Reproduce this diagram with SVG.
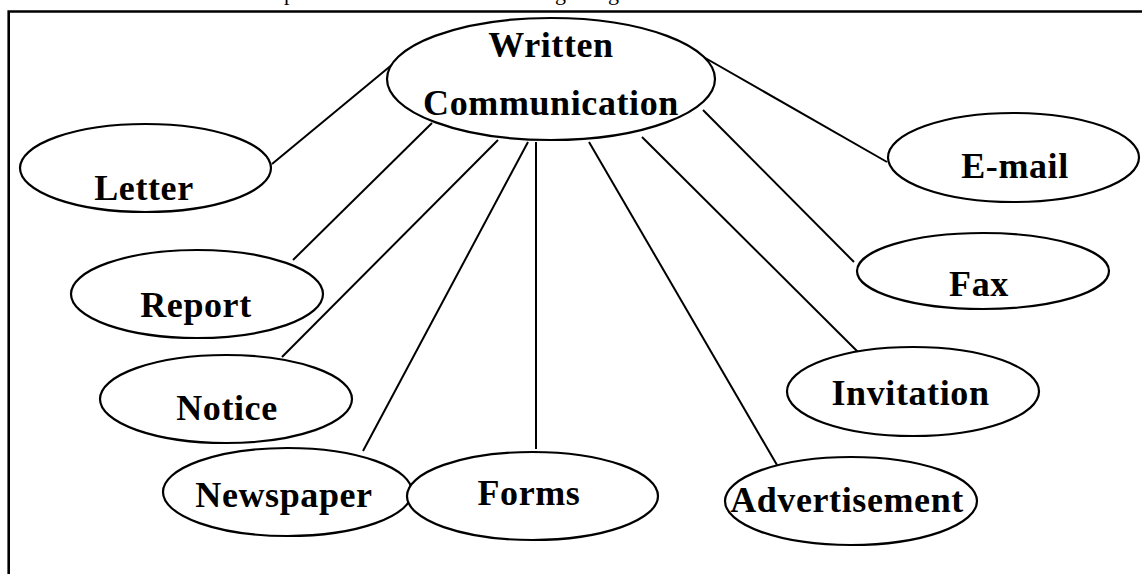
<svg xmlns="http://www.w3.org/2000/svg" width="1142" height="574" viewBox="0 0 1142 574">
  <style>
    .node { fill: #ffffff; stroke: #000000; stroke-width: 2.2; }
    .label { font-family: "Liberation Serif", "Times New Roman", serif; font-weight: bold; font-size: 36px; fill: #000000; text-anchor: middle; letter-spacing: 0.6px; }
    .edge { stroke: #000000; stroke-width: 2; fill: none; }
    .frame { stroke: #000000; stroke-width: 2.6; fill: none; }
    .runon { font-family: "Liberation Serif", "Times New Roman", serif; font-size: 22px; fill: #000000; }
  </style>

  <rect width="1142" height="574" fill="#ffffff"/>

  <!-- tail of the preceding text line, clipped at the page top -->
  <text class="runon" x="284" y="0">p</text>
  <text class="runon" x="555" y="0">g</text>
  <text class="runon" x="608" y="0">g</text>

  <!-- frame: top and left rules -->
  <path class="frame" d="M8.7 574 V11.5 H1142"/>

  <!-- connectors from the central node -->
  <g id="connectors">
    <line class="edge" x1="405" y1="54" x2="272" y2="164"/>
    <line class="edge" x1="432" y1="123" x2="293" y2="260"/>
    <line class="edge" x1="498" y1="140" x2="282" y2="357"/>
    <line class="edge" x1="528" y1="142" x2="363" y2="451"/>
    <line class="edge" x1="536" y1="142" x2="536" y2="449"/>
    <line class="edge" x1="589" y1="142" x2="777" y2="465"/>
    <line class="edge" x1="642" y1="137" x2="863" y2="357"/>
    <line class="edge" x1="703" y1="110" x2="854" y2="262"/>
    <line class="edge" x1="700" y1="55" x2="887" y2="162"/>
  </g>

  <g id="written-communication">
    <ellipse class="node" cx="551" cy="79" rx="164" ry="61"/>
    <text class="label" x="551" y="57">Written</text>
    <text class="label" x="551" y="115">Communication</text>
  </g>

  <g id="letter">
    <ellipse class="node" cx="145.5" cy="168" rx="125.5" ry="44"/>
    <text class="label" x="144" y="200">Letter</text>
  </g>

  <g id="report">
    <ellipse class="node" cx="197" cy="294" rx="126" ry="44"/>
    <text class="label" x="196" y="317">Report</text>
  </g>

  <g id="notice">
    <ellipse class="node" cx="226" cy="399" rx="126" ry="44"/>
    <text class="label" x="227" y="420">Notice</text>
  </g>

  <g id="newspaper">
    <ellipse class="node" cx="287.5" cy="492" rx="124.5" ry="44"/>
    <text class="label" x="284" y="507">Newspaper</text>
  </g>

  <g id="forms">
    <ellipse class="node" cx="532.5" cy="496" rx="125.5" ry="44"/>
    <text class="label" x="529" y="505">Forms</text>
  </g>

  <g id="advertisement">
    <ellipse class="node" cx="851" cy="501" rx="126" ry="44"/>
    <text class="label" x="847" y="512">Advertisement</text>
  </g>

  <g id="invitation">
    <ellipse class="node" cx="913" cy="391.5" rx="126" ry="44.5"/>
    <text class="label" x="910.5" y="405">Invitation</text>
  </g>

  <g id="fax">
    <ellipse class="node" cx="983" cy="271" rx="126" ry="38"/>
    <text class="label" x="979" y="296">Fax</text>
  </g>

  <g id="e-mail">
    <ellipse class="node" cx="1013.5" cy="157.5" rx="125.5" ry="44.5"/>
    <text class="label" x="1015" y="178">E-mail</text>
  </g>
</svg>
